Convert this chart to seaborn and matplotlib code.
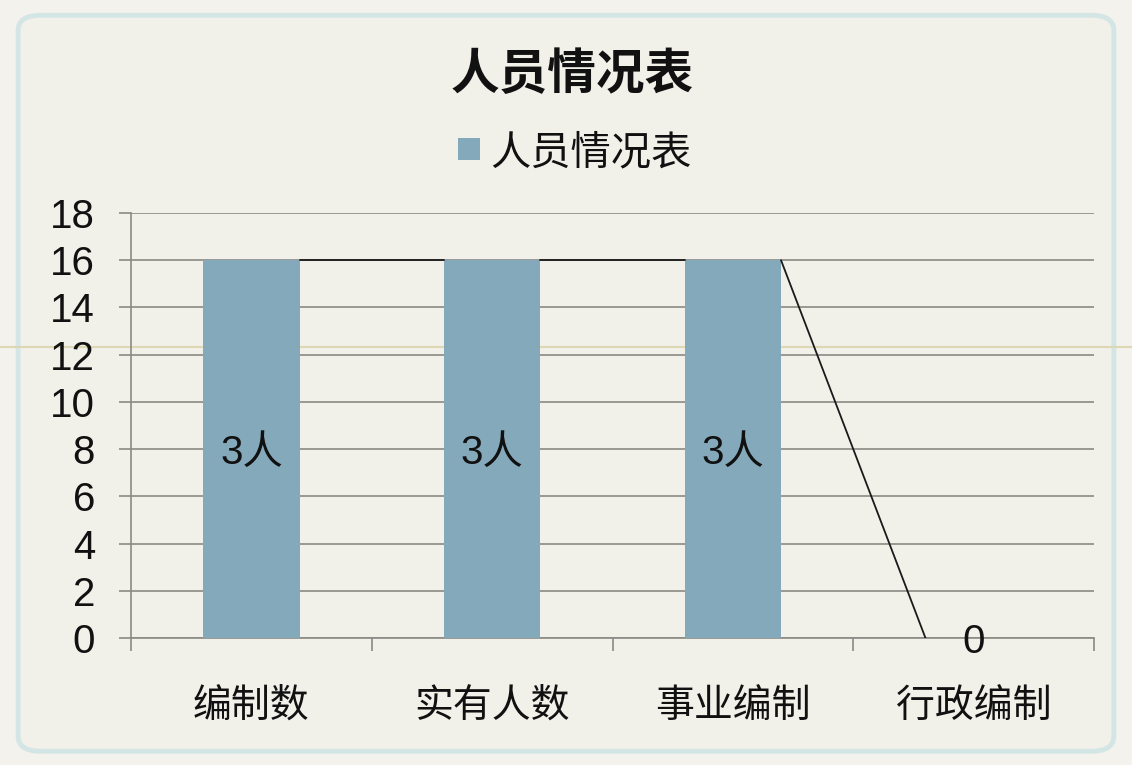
import numpy as np
import pandas as pd
import seaborn as sns
import matplotlib.pyplot as plt
from matplotlib.patches import FancyBboxPatch, Rectangle
from matplotlib.lines import Line2D

# data
categories = ['编制数', '实有人数', '事业编制', '行政编制']
values = [16, 16, 16, 0]
bar_labels = ['3人', '3人', '3人', '0']
series_name = '人员情况表'
title = '人员情况表'
y_ticks = list(range(0, 19, 2))

sns.set_theme(style="white")
plt.rcParams['font.family'] = ['Liberation Sans', 'Noto Sans CJK SC', 'DejaVu Sans']

bar_color = '#84A9BB'
bg_color = '#F1F0E9'
grid_color = '#8A8A86'
text_color = '#111111'

fig = plt.figure(figsize=(11.32, 7.65), dpi=100)
fig.patch.set_facecolor('#F3F2EC')

# rounded frame like the slide chart
frame = FancyBboxPatch((0.016, 0.018), 0.968, 0.962, boxstyle="round,pad=0,rounding_size=0.02",
                       transform=fig.transFigure, facecolor=bg_color, edgecolor='#D3E6E5',
                       linewidth=3.5, zorder=-2)
fig.add_artist(frame)
fig.add_artist(Line2D([0.0, 1.0], [1 - 347 / 765, 1 - 347 / 765], transform=fig.transFigure,
                      color='#DCD8B4', linewidth=1.5, zorder=-1))

ax = fig.add_axes([131 / 1132, 1 - 638 / 765, (1094 - 131) / 1132, (638 - 213) / 765])
ax.set_facecolor('none')

df = pd.DataFrame({'cat': categories, 'val': values})
sns.barplot(data=df, x='cat', y='val', color=bar_color, width=0.4, saturation=1,
            linewidth=0, edgecolor='none', ax=ax, zorder=3)

# series lines between bar tops
for i in range(len(values) - 1):
    ax.plot([i + 0.2, i + 0.8], [values[i], values[i + 1]], color='#1A1A1A',
            linewidth=1.3, zorder=4)

# data labels
for i, (v, lab) in enumerate(zip(values, bar_labels)):
    ax.annotate(lab, (i, v / 2), xytext=(0, -3), textcoords='offset points',
                ha='center', va='center', fontsize=29, color=text_color, zorder=5)

ax.set_xlim(-0.5, len(categories) - 0.5)
ax.set_ylim(0, 18)
ax.set_yticks(y_ticks)
ax.yaxis.grid(True, color=grid_color, linewidth=1.2, zorder=0)
ax.set_axisbelow(True)
ax.set_xlabel('')
ax.set_ylabel('')

for s in ['top', 'right']:
    ax.spines[s].set_visible(False)
for s in ['left', 'bottom']:
    ax.spines[s].set_color(grid_color)
    ax.spines[s].set_linewidth(1.2)

ax.tick_params(axis='y', which='major', left=True, length=9, width=1.2, color=grid_color,
               pad=17, labelsize=29, labelcolor=text_color)
ax.set_xticks(range(len(categories)))
ax.set_xticklabels(categories)
ax.set_xticks(np.arange(-0.5, len(categories), 1.0), minor=True)
ax.tick_params(axis='x', which='major', bottom=False, length=0, pad=37, labelsize=28,
               labelcolor=text_color)
ax.tick_params(axis='x', which='minor', bottom=True, length=9, width=1.2, color=grid_color)

# title and legend
fig.text(572 / 1132, 1 - 76 / 765, title, ha='center', va='center', fontsize=35,
         fontweight='bold', color=text_color)
fig.add_artist(Rectangle((458 / 1132, 1 - 160 / 765), 22 / 1132, 22 / 765,
                         transform=fig.transFigure, facecolor=bar_color, edgecolor='none'))
fig.text(490 / 1132, 1 - 153 / 765, series_name, ha='left', va='center', fontsize=29,
         color=text_color)

plt.savefig('out.png', dpi=100, facecolor=fig.get_facecolor())
